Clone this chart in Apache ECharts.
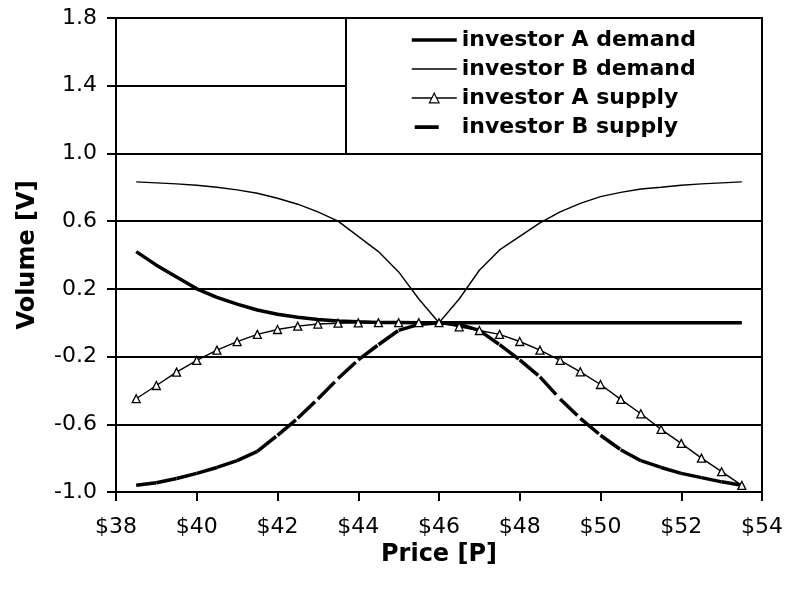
<!DOCTYPE html>
<html>
<head>
<meta charset="utf-8">
<title>investor demand / supply</title>
<script src="https://cdn.jsdelivr.net/npm/echarts@6/dist/echarts.min.js"></script>
<style>
	html, body { margin: 0; padding: 0; background: #fff; }
	#chart { width: 786px; height: 594px; }
</style>
</head>
<body>
<div id="chart"></div>
<script>

	/*
	 * 数据
	 */
	var prices = [38.5, 39, 39.5, 40, 40.5, 41, 41.5, 42, 42.5, 43, 43.5, 44, 44.5, 45, 45.5, 46,
		46.5, 47, 47.5, 48, 48.5, 49, 49.5, 50, 50.5, 51, 51.5, 52, 52.5, 53, 53.5];

	var aDemand = [0.42, 0.34, 0.27, 0.20, 0.15, 0.11, 0.075, 0.05, 0.032, 0.019, 0.01, 0.005, 0.002, 0.001, 0, 0,
		0, 0, 0, 0, 0, 0, 0, 0, 0, 0, 0, 0, 0, 0, 0];

	var bDemand = [0.832, 0.826, 0.82, 0.812, 0.80, 0.785, 0.765, 0.735, 0.70, 0.655, 0.60, 0.51, 0.42, 0.30, 0.14, 0,
		0.14, 0.31, 0.43, 0.51, 0.59, 0.655, 0.705, 0.745, 0.77, 0.79, 0.80, 0.812, 0.82, 0.826, 0.832];

	var aSupply = [-0.449, -0.371, -0.292, -0.223, -0.162, -0.112, -0.069, -0.040, -0.020, -0.008, -0.003, -0.001, 0, 0, 0, 0,
		-0.024, -0.046, -0.069, -0.111, -0.162, -0.223, -0.29, -0.365, -0.453, -0.538, -0.630, -0.713, -0.80, -0.880, -0.961];

	var bSupply = [-0.96, -0.945, -0.92, -0.89, -0.855, -0.815, -0.76, -0.665, -0.565, -0.45, -0.33, -0.22, -0.13, -0.045, -0.01, 0,
		-0.01, -0.045, -0.13, -0.22, -0.32, -0.45, -0.565, -0.665, -0.75, -0.815, -0.855, -0.89, -0.915, -0.94, -0.96];

	var names = ["investor A demand", "investor B demand", "investor A supply", "investor B supply"];

	var FONT = "'DejaVu Sans', 'Liberation Sans', sans-serif";

	/*
	 * 组合 [价格, 数量]
	 */
	function pairs(values) {

		var arr = [];

		for (var i = 0; i < prices.length; i++) {
			arr.push([prices[i], values[i]]);
		}

		return arr;

	}

	/*
	 * 每段单独画，虚线每段重新开始
	 */
	function segments(values) {

		var arr = [];

		for (var i = 0; i < prices.length - 1; i++) {
			arr.push({
				coords: [[prices[i], values[i]], [prices[i + 1], values[i + 1]]]
			});
		}

		return arr;

	}

	var chart = echarts.init(document.getElementById("chart"), null, { renderer: "canvas" });

	chart.setOption({
		backgroundColor: "#fff",
		animation: false,
		grid: {
			left: 116,
			right: 24,
			top: 18,
			bottom: 102,
			show: true,
			borderColor: "#000",
			borderWidth: 2
		},
		legend: {
			orient: "vertical",
			left: 410,
			top: 29,
			padding: 0,
			itemWidth: 45,
			itemHeight: 12,
			itemGap: 7,
			selectedMode: false,
			data: [{
				name: names[0],
				itemStyle: { opacity: 0 },
				lineStyle: { color: "#000", width: 3.5 }
			}, {
				name: names[1],
				itemStyle: { opacity: 0 },
				lineStyle: { color: "#000", width: 1.4 }
			}, {
				name: names[2],
				lineStyle: { color: "#000", width: 1.4 },
				itemStyle: { color: "#fff", borderColor: "#000", borderWidth: 1.2 }
			}, {
				name: names[3],
				icon: "path://M0,0h0.01v0.01h-0.01z M44.99,11.99h0.01v0.01h-0.01z M3,4.3h24v3.6h-24z",
				itemStyle: { color: "#000", borderWidth: 0, borderColor: "rgba(0,0,0,0)" }
			}],
			textStyle: {
				fontFamily: FONT,
				fontWeight: "bold",
				fontSize: 22,
				color: "#000"
			}
		},
		graphic: [{
			type: "rect",
			z: 3,
			shape: { x: 346, y: 18, width: 416, height: 136 },
			style: { fill: "#fff", stroke: "#000", lineWidth: 2 }
		}],
		xAxis: {
			type: "value",
			min: 38,
			max: 54,
			interval: 2,
			name: "Price [P]",
			nameLocation: "middle",
			nameGap: 41,
			nameTextStyle: {
				fontFamily: FONT,
				fontWeight: "bold",
				fontSize: 24,
				color: "#000"
			},
			axisLine: { onZero: false, lineStyle: { color: "#000", width: 2 } },
			axisTick: { show: true, length: 9, lineStyle: { color: "#000", width: 2 } },
			axisLabel: {
				margin: 24,
				fontFamily: FONT,
				fontSize: 22,
				color: "#000",
				formatter: function(v) {
					return "$" + v;
				}
			},
			splitLine: { show: false }
		},
		yAxis: {
			type: "value",
			min: -1,
			max: 1.8,
			interval: 0.4,
			name: "Volume [V]",
			nameLocation: "middle",
			nameGap: 76,
			nameTextStyle: {
				fontFamily: FONT,
				fontWeight: "bold",
				fontSize: 24,
				color: "#000"
			},
			axisLine: { show: true, onZero: false, lineStyle: { color: "#000", width: 2 } },
			axisTick: { show: true, length: 9, lineStyle: { color: "#000", width: 2 } },
			axisLabel: {
				margin: 19,
				fontFamily: FONT,
				fontSize: 22,
				color: "#000",
				formatter: function(v) {
					return v.toFixed(1);
				}
			},
			splitLine: { show: true, lineStyle: { color: "#000", width: 2 } }
		},
		series: [{
			name: names[0],
			type: "line",
			symbol: "none",
			z: 5,
			lineStyle: { color: "#000", width: 3.5 },
			itemStyle: { color: "#000" },
			data: pairs(aDemand)
		}, {
			name: names[1],
			type: "line",
			symbol: "none",
			z: 5,
			lineStyle: { color: "#000", width: 1.4 },
			itemStyle: { color: "#000" },
			data: pairs(bDemand)
		}, {
			name: names[2],
			type: "line",
			symbol: "triangle",
			symbolSize: 8,
			showAllSymbol: true,
			z: 6,
			lineStyle: { color: "#000", width: 1.4 },
			itemStyle: { color: "#fff", borderColor: "#000", borderWidth: 1.3 },
			data: pairs(aSupply)
		}, {
			name: names[3],
			type: "lines",
			coordinateSystem: "cartesian2d",
			polyline: false,
			z: 5,
			itemStyle: { color: "#000" },
			lineStyle: { color: "#000", width: 3.5, type: [24, 6], cap: "butt", opacity: 1 },
			data: segments(bSupply)
		}]
	});

</script>
</body>
</html>
